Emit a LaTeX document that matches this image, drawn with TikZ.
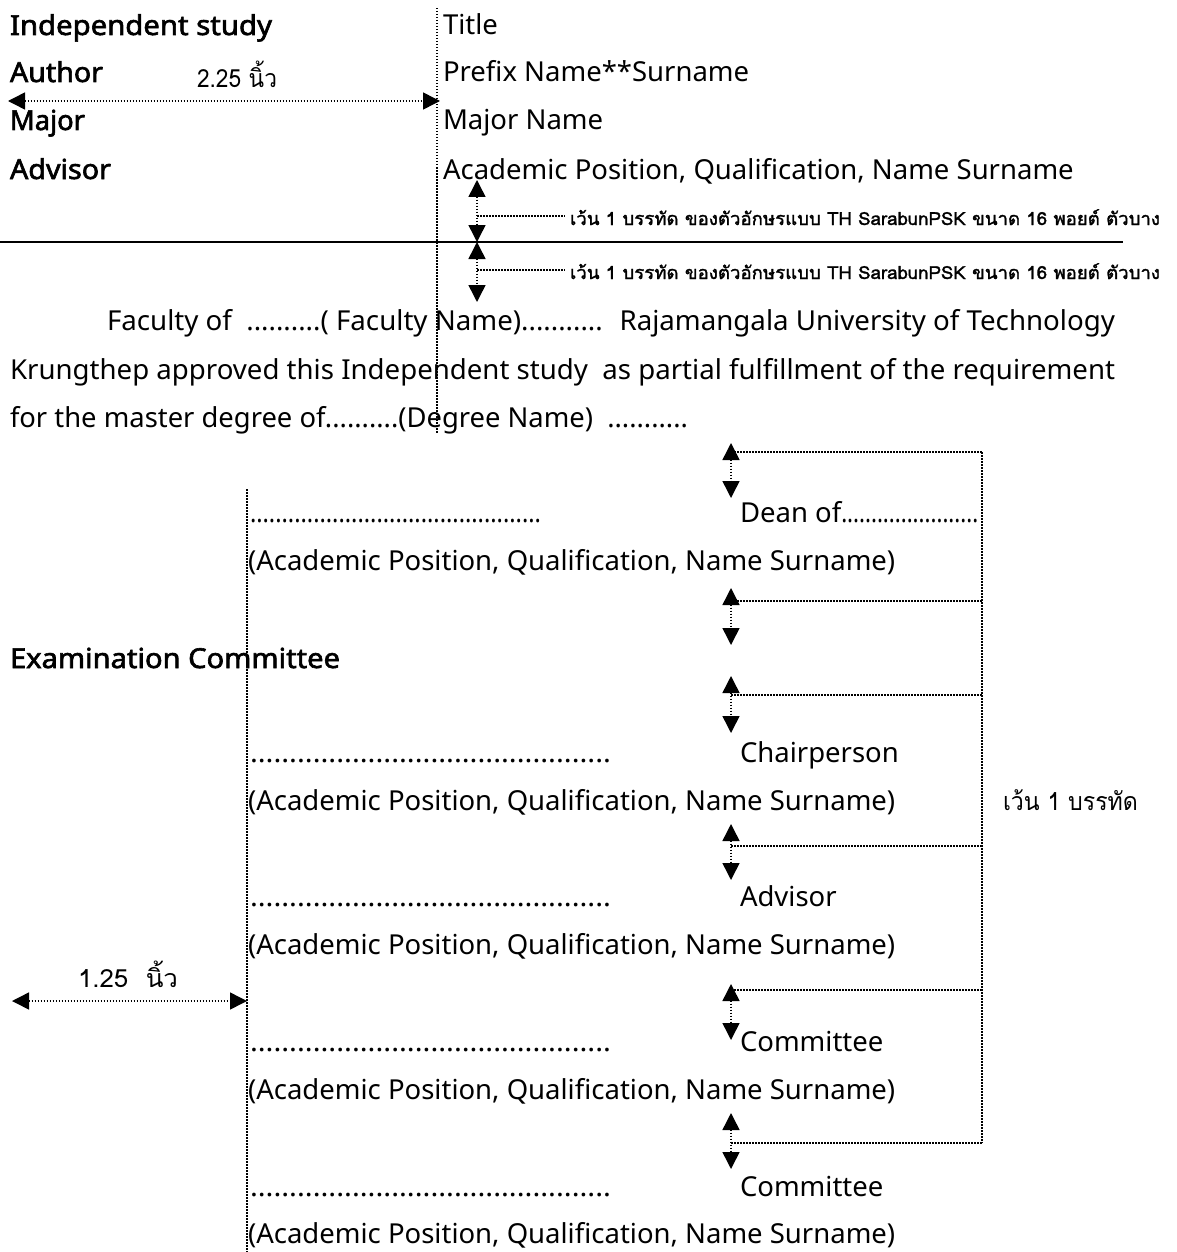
\documentclass[tikz,border=0pt]{standalone}
\usepackage{fontspec}
\usepackage{graphicx}
\setmainfont{Noto Sans}
\newfontfamily\hdrfont[FakeBold=2.2]{Noto Sans}
\newfontfamily\thaifont[Script=Thai]{Loma}
\newfontfamily\thaibold[Script=Thai,FakeBold=1.6]{Loma}
\usetikzlibrary{arrows.meta}
\newlength\fitlen
\newcommand\fitto[2]{\settowidth\fitlen{#2}\pgfmathsetmacro\fitfac{#1/\fitlen}\scalebox{\fitfac}[1]{#2}}
\newcommand\dotsL{..............................................}
\newcommand\dotsS{.......................}
\begin{document}
\begin{tikzpicture}[x=1pt,y=-1pt,
  every node/.style={inner sep=0pt,outer sep=0pt},
  txt/.style={anchor=base west,font=\fontsize{27.5}{32}\selectfont},
  hdr/.style={anchor=base west,font=\hdrfont\fontsize{27.5}{32}\selectfont},
  note/.style={anchor=base west,font=\thaibold\fontsize{18}{20}\selectfont},
  dimtxt/.style={anchor=base west,font=\thaifont\fontsize{25}{30}\selectfont},
  dotln/.style={line width=1.5pt,dash pattern=on 1.5pt off 1.5pt},
  dimarrow/.style={dotln,{Triangle[length=17pt,width=17pt]}-{Triangle[length=17pt,width=17pt]}},
  rule/.style={line width=2pt}
]
\useasboundingbox (0,0) rectangle (1177,1252);

% ---------- header ----------
\node[hdr] (is) at (10,35) {\fitto{262pt}{Independent study}};
\node[hdr] (au) at (10,82) {\fitto{93pt}{Author}};
\node[hdr] (mj) at (10,130) {\fitto{75pt}{Major}};
\node[hdr] (ad) at (10,179) {\fitto{101pt}{Advisor}};
\node[txt] (ti) at (443,35) {Title};
\node[txt] (pn) at (443,82) {Prefix Name**Surname};
\node[txt] (mn) at (443,130) {Major Name};
\node[txt] (ap) at (443,179) {Academic Position, Qualification, Name Surname};

\node[dimtxt] (d225) at (197,88) {\fitto{80pt}{2.25 นิ้ว}};
\coordinate (hl) at (8,101);
\coordinate (hr) at (440,101);
\draw[dimarrow] (hl) -- (hr);

\coordinate (v1t) at (437,8);
\coordinate (v1b) at (437,433);
\draw[dotln] (v1t) -- (v1b);

\coordinate (sl) at (0,242);
\coordinate (sr) at (1123,242);
\draw[rule] (sl) -- (sr);

\node[note] (n1) at (570,225) {\fitto{590pt}{เว้น 1 บรรทัด ของตัวอักษรแบบ TH SarabunPSK ขนาด 16 พอยต์ ตัวบาง}};
\node[note] (n2) at (570,279) {\fitto{590pt}{เว้น 1 บรรทัด ของตัวอักษรแบบ TH SarabunPSK ขนาด 16 พอยต์ ตัวบาง}};
\coordinate (a1t) at (477,180);
\coordinate (a1b) at (477,242);
\coordinate (a1m) at (477,216);
\coordinate (a2t) at (477,242);
\coordinate (a2b) at (477,302);
\coordinate (a2m) at (477,270);
\coordinate (a1e) at (565,216);
\coordinate (a2e) at (565,270);
\draw[dimarrow] (a1t) -- (a1b);
\draw[dimarrow] (a2t) -- (a2b);
\draw[dotln] (a1m) -- (a1e);
\draw[dotln] (a2m) -- (a2e);

% ---------- paragraph ----------
\node[txt] (p1) at (107,330) {\fitto{1008pt}{Faculty of~ ..........( Faculty Name)...........~ Rajamangala University of Technology}};
\node[txt] (p2) at (10,379) {\fitto{1105pt}{Krungthep approved this Independent study~ as partial fulfillment of the requirement}};
\node[txt] (p3) at (10,427) {\fitto{678pt}{for the master degree of..........(Degree Name)~ ...........}};

% ---------- signatures ----------
\coordinate (v2t) at (247,489);
\coordinate (v2b) at (247,1252);
\draw[dotln] (v2t) -- (v2b);

\node[txt] (s1) at (250,522) {\fitto{291pt}{\dotsL}};
\node[txt] (r1) at (740,522) {Dean of\fitto{137pt}{\dotsS}};
\node[txt] (q1) at (248,570) {(Academic Position, Qualification, Name Surname)};

\node[hdr] (ec) at (10,668) {\fitto{330pt}{Examination Committee}};

\node[txt] (s2) at (250,762) {\fitto{361pt}{\dotsL}};
\node[txt] (r2) at (740,762) {Chairperson};
\node[txt] (q2) at (248,810) {(Academic Position, Qualification, Name Surname)};

\node[txt] (s3) at (250,906) {\fitto{361pt}{\dotsL}};
\node[txt] (r3) at (740,906) {Advisor};
\node[txt] (q3) at (248,954) {(Academic Position, Qualification, Name Surname)};

\node[txt] (s4) at (250,1051) {\fitto{361pt}{\dotsL}};
\node[txt] (r4) at (740,1051) {Committee};
\node[txt] (q4) at (248,1099) {(Academic Position, Qualification, Name Surname)};

\node[txt] (s5) at (250,1196) {\fitto{361pt}{\dotsL}};
\node[txt] (r5) at (740,1196) {Committee};
\node[txt] (q5) at (248,1243) {(Academic Position, Qualification, Name Surname)};

\node[dimtxt] (wl) at (1003,810) {\fitto{135pt}{เว้น 1 บรรทัด}};

\node[dimtxt] (d125) at (78,987) {\fitto{100pt}{1.25~ นิ้ว}};
\coordinate (bl) at (12,1001);
\coordinate (br) at (247,1001);
\draw[dimarrow] (bl) -- (br);

% spacing arrows with bracket
\foreach \i/\t/\b/\m in {1/443/498/452, 2/588/645/601, 3/676/733/695, 4/824/880/846, 5/984/1040/990, 6/1113/1169/1143}{
  \coordinate (k\i t) at (731,\t);
  \coordinate (k\i b) at (731,\b);
  \coordinate (k\i m) at (731,\m);
  \coordinate (k\i e) at (982,\m);
  \draw[dimarrow] (k\i t) -- (k\i b);
  \draw[dotln] (k\i m) -- (k\i e);
}
\draw[dotln] (k1e) -- (k6e);
\end{tikzpicture}
\end{document}
